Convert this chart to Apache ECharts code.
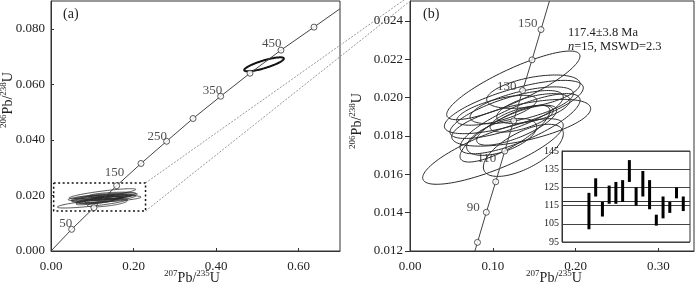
<!DOCTYPE html>
<html><head><meta charset="utf-8">
<script src="https://cdn.jsdelivr.net/npm/echarts@6/dist/echarts.min.js"></script>
<style>html,body{margin:0;padding:0;background:#fff}#c{width:700px;height:285px}</style>
</head><body><div id="c"></div>
<script>
// ---------- data ----------
// Concordia reference points, panel (a)
const concA_age = [50, 100, 150, 200, 250, 300, 350, 400, 450, 500];
const concA_x = [0.050, 0.104, 0.159, 0.218, 0.280, 0.344, 0.411, 0.482, 0.557, 0.637];
const concA_y = [0.0078, 0.0156, 0.0235, 0.0315, 0.0395, 0.0477, 0.0557, 0.0640, 0.0723, 0.0806];
const concA_lineX = [0, 0.050, 0.104, 0.159, 0.218, 0.280, 0.344, 0.411, 0.482, 0.557, 0.637, 0.700];
const concA_lineY = [0, 0.0078, 0.0156, 0.0235, 0.0315, 0.0395, 0.0477, 0.0557, 0.0640, 0.0723, 0.0806, 0.0872];
const concA_labels = [50, 150, 250, 350, 450];

// Concordia reference points, panel (b)
const concB_age = [80, 90, 100, 110, 120, 130, 140, 150];
const concB_x = [0.0815, 0.0922, 0.1035, 0.1144, 0.1252, 0.1360, 0.1474, 0.1582];
const concB_y = [0.01245, 0.01402, 0.01561, 0.01721, 0.01879, 0.02037, 0.02197, 0.02355];
const concB_lineX = [0.0784, 0.0815, 0.0922, 0.1035, 0.1144, 0.1252, 0.1360, 0.1474, 0.1582, 0.1684];
const concB_lineY = [0.0120, 0.01245, 0.01402, 0.01561, 0.01721, 0.01879, 0.02037, 0.02197, 0.02355, 0.02504];
const concB_labels = [90, 110, 130, 150];

// Analysis error ellipses: centre, half-widths and error correlation
const ellCx  = [0.1002, 0.1248, 0.1490, 0.1254, 0.1343, 0.1329, 0.1147, 0.1369, 0.1167, 0.1349, 0.1288, 0.1349, 0.1107, 0.1490, 0.1047];
const ellCy  = [0.01719, 0.02064, 0.02031, 0.01951, 0.01869, 0.01864, 0.01812, 0.01725, 0.01912, 0.01960, 0.01856, 0.01890, 0.01795, 0.01943, 0.01934];
const ellSx  = [0.0849, 0.0805, 0.0564, 0.0839, 0.0839, 0.0725, 0.0543, 0.0483, 0.0684, 0.0624, 0.0483, 0.0382, 0.0423, 0.0443, 0.0483];
const ellSy  = [0.00171, 0.00179, 0.00087, 0.00139, 0.00122, 0.00157, 0.00148, 0.00136, 0.00125, 0.00096, 0.00104, 0.00070, 0.00096, 0.00078, 0.00078];
const ellRho = [0.80, 0.85, 0.47, 0.72, 0.60, 0.78, 0.80, 0.64, 0.73, 0.64, 0.75, 0.62, 0.55, 0.55, 0.67];

// Inherited (old) grain ellipse, panel (a)
const oldCx = [0.516], oldCy = [0.0672], oldSx = [0.048], oldSy = [0.00252], oldRho = [0.82];

// Zoom box in panel (a): x1, x2 / y1, y2
const boxX = [0.0065, 0.229];
const boxY = [0.0144, 0.0245];

// Inset: 206Pb/238U ages with error bars
const spotNo  = [1, 2, 3, 4, 5, 6, 7, 8, 9, 10, 11, 12, 13, 14, 15];
const ageLow  = [102, 120, 109, 116, 116, 117, 128, 115, 120, 113, 104, 108, 111, 119, 112];
const ageHigh = [122, 130, 117, 126, 128, 129, 140, 125, 134, 129, 110, 120, 117, 125, 120];
const meanAge = 117.4;
const insetTicks = [95, 105, 115, 125, 135, 145];

// ---------- styling ----------
const SERIF = '"Liberation Serif","Times New Roman",serif';
const INK = '#222';

const labelOffA = {50: [4, -2.5], 150: [11, -9.5], 250: [4, -1], 350: [5, -2.5], 450: [4, -3]};
const labelOffB = {90: [-3, -1], 110: [-5, 11], 130: [-2.6, 0], 150: [0, -2.6]};

function ellRender(lw, color) {
  return function (params, api) {
    const cx = api.value(0), cy = api.value(1), sx = api.value(2), sy = api.value(3), r = api.value(4);
    const k = Math.sqrt(1 - r * r);
    const pts = [];
    for (let i = 0; i < 120; i++) {
      const t = i / 120 * Math.PI * 2;
      pts.push(api.coord([cx + sx * Math.cos(t), cy + sy * (r * Math.cos(t) + k * Math.sin(t))]));
    }
    return {type: 'polygon', shape: {points: pts}, style: {fill: 'none', stroke: color, lineWidth: lw}};
  };
}
const zip5 = (a, b, c, d, e) => a.map((v, i) => [v, b[i], c[i], d[i], e[i]]);
const ellData = zip5(ellCx, ellCy, ellSx, ellSy, ellRho);
const oldData = zip5(oldCx, oldCy, oldSx, oldSy, oldRho);

function markerData(ages, xs, ys, labs, offs) {
  return ages.map((a, i) => {
    const it = {value: [xs[i], ys[i]]};
    if (labs.indexOf(a) >= 0) {
      it.label = {show: true, formatter: String(a), position: offs[a], align: 'right', verticalAlign: 'middle'};
    }
    return it;
  });
}
const pairs = (xs, ys) => xs.map((v, i) => [v, ys[i]]);

function fmtFix(interval, digits) {
  return function (v) {
    const k = v / interval;
    if (Math.abs(k - Math.round(k)) > 1e-6) return '';
    return v.toFixed(digits);
  };
}

const axisLabelStyle = {color: INK, fontFamily: SERIF, fontSize: 13};

const option = {
  animation: false,
  backgroundColor: '#fff',
  grid: [
    {left: 51, top: 1, width: 289, height: 250, show: true, borderColor: '#333', borderWidth: 1, outerBoundsMode: 'none', containLabel: false},
    {left: 410, top: 1, width: 284, height: 250, show: true, borderColor: '#333', borderWidth: 1, outerBoundsMode: 'none', containLabel: false},
    {left: 562, top: 151, width: 128, height: 91, show: true, borderColor: '#333', borderWidth: 1, backgroundColor: '#fff', outerBoundsMode: 'none', containLabel: false}
  ],
  xAxis: [
    {gridIndex: 0, type: 'value', min: 0, max: 0.7, interval: 0.2,
     axisLine: {show: true, onZero: false, lineStyle: {color: '#333'}},
     axisTick: {show: true, inside: true, length: 3, lineStyle: {color: '#333'}},
     axisLabel: Object.assign({margin: 9, formatter: fmtFix(0.2, 2), showMaxLabel: false}, axisLabelStyle),
     splitLine: {show: false}},
    {gridIndex: 1, type: 'value', min: 0, max: 0.343, interval: 0.1,
     axisLine: {show: true, onZero: false, lineStyle: {color: '#333'}},
     axisTick: {show: true, inside: true, length: 3, lineStyle: {color: '#333'}},
     axisLabel: Object.assign({margin: 9, formatter: fmtFix(0.1, 2), showMaxLabel: false}, axisLabelStyle),
     splitLine: {show: false}},
    {gridIndex: 2, type: 'value', min: -3, max: 16, show: false}
  ],
  yAxis: [
    {gridIndex: 0, type: 'value', min: 0, max: 0.09, interval: 0.02,
     axisLine: {show: true, onZero: false, lineStyle: {color: '#333'}},
     axisTick: {show: true, inside: true, length: 3, lineStyle: {color: '#333'}},
     axisLabel: Object.assign({margin: 6, formatter: fmtFix(0.02, 3), showMaxLabel: false}, axisLabelStyle),
     splitLine: {show: false}},
    {gridIndex: 1, type: 'value', min: 0.012, max: 0.02504, interval: 0.002,
     axisLine: {show: true, onZero: false, lineStyle: {color: '#333'}},
     axisTick: {show: true, inside: false, length: 5, lineStyle: {color: '#333'}},
     axisLabel: Object.assign({margin: 7, formatter: fmtFix(0.002, 3), showMaxLabel: false}, axisLabelStyle),
     splitLine: {show: false}},
    {gridIndex: 2, type: 'value', min: insetTicks[0], max: insetTicks[insetTicks.length - 1], interval: 10,
     axisLine: {show: true, onZero: false, lineStyle: {color: '#333'}},
     axisTick: {show: false},
     axisLabel: {margin: 3, color: INK, fontFamily: SERIF, fontSize: 10},
     splitLine: {show: true, lineStyle: {color: '#444', width: 1}}}
  ],
  series: [
    // panel (a)
    {type: 'custom', xAxisIndex: 0, yAxisIndex: 0, clip: true, renderItem: ellRender(0.8, '#2a2a2a'), data: ellData, z: 2, silent: true},
    {type: 'custom', xAxisIndex: 0, yAxisIndex: 0, clip: true, renderItem: ellRender(2, '#111'), data: oldData, z: 2, silent: true},
    {type: 'line', xAxisIndex: 0, yAxisIndex: 0, data: pairs(concA_lineX, concA_lineY), symbol: 'none',
     lineStyle: {color: '#444', width: 1}, clip: true, z: 3, silent: true},
    {type: 'line', xAxisIndex: 0, yAxisIndex: 0,
     data: pairs([boxX[0], boxX[1], boxX[1], boxX[0], boxX[0]], [boxY[1], boxY[1], boxY[0], boxY[0], boxY[1]]),
     symbol: 'none', lineStyle: {color: '#111', width: 1.5, type: [2, 2.5]}, z: 4, silent: true},
    {type: 'scatter', xAxisIndex: 0, yAxisIndex: 0, data: markerData(concA_age, concA_x, concA_y, concA_labels, labelOffA),
     symbol: 'circle', symbolSize: 6, itemStyle: {color: '#fff', borderColor: '#333', borderWidth: 1}, z: 5, silent: true,
     label: {show: false, color: INK, fontFamily: SERIF, fontSize: 13}},
    // panel (b)
    {type: 'custom', xAxisIndex: 1, yAxisIndex: 1, clip: true, renderItem: ellRender(1, '#2a2a2a'), data: ellData, z: 2, silent: true},
    {type: 'line', xAxisIndex: 1, yAxisIndex: 1, data: pairs(concB_lineX, concB_lineY), symbol: 'none',
     lineStyle: {color: '#444', width: 1}, clip: true, z: 3, silent: true},
    {type: 'scatter', xAxisIndex: 1, yAxisIndex: 1, data: markerData(concB_age, concB_x, concB_y, concB_labels, labelOffB),
     symbol: 'circle', symbolSize: 6, itemStyle: {color: '#fff', borderColor: '#333', borderWidth: 1}, z: 5, silent: true,
     label: {show: false, color: INK, fontFamily: SERIF, fontSize: 13}},
    // inset
    {type: 'custom', xAxisIndex: 2, yAxisIndex: 2, clip: true, z: 6, silent: true,
     data: spotNo.map((n, i) => [n, ageLow[i], ageHigh[i]]),
     renderItem: function (params, api) {
       const p1 = api.coord([api.value(0), api.value(2)]);
       const p2 = api.coord([api.value(0), api.value(1)]);
       return {type: 'rect', shape: {x: p1[0] - 1.5, y: p1[1], width: 3, height: p2[1] - p1[1]}, style: {fill: '#000'}};
     },
     markLine: {silent: true, symbol: 'none', label: {show: false}, data: [{yAxis: meanAge}],
                lineStyle: {color: '#333', width: 1, type: 'solid'}}}
  ]
};

const supRich = {
  s: {fontFamily: SERIF, fontSize: 9, lineHeight: 9, verticalAlign: 'top', fill: INK},
  m: {fontFamily: SERIF, fontSize: 14, lineHeight: 17, fill: INK},
  i: {fontFamily: SERIF, fontSize: 12.5, lineHeight: 15, fontStyle: 'italic', fill: INK},
  t: {fontFamily: SERIF, fontSize: 12.5, lineHeight: 15, fill: INK}
};
function txt(id, x, y, text, rot, align) {
  return {type: 'text', id: id, x: x, y: y, rotation: rot || 0, z: 20, silent: true,
          style: {text: text, rich: supRich, align: align || 'center', verticalAlign: 'middle', fill: INK,
                  fontFamily: SERIF, fontSize: 14}};
}
const texts = [
  txt('xa', 192, 278, '{s|207}{m|Pb/}{s|235}{m|U}'),
  txt('xb', 554, 278, '{s|207}{m|Pb/}{s|235}{m|U}'),
  txt('ya', 8, 100, '{s|206}{m|Pb/}{s|238}{m|U}', Math.PI / 2),
  txt('yb', 357, 121, '{s|206}{m|Pb/}{s|238}{m|U}', Math.PI / 2),
  txt('pa', 63, 14, '{m|(a)}', 0, 'left'),
  txt('pb', 423, 14, '{m|(b)}', 0, 'left'),
  txt('an1', 568, 33, '{t|117.4±3.8 Ma}', 0, 'left'),
  txt('an2', 568, 47, '{i|n}{t|=15, MSWD=2.3}', 0, 'left')
];
option.graphic = {elements: texts};

const chart = echarts.init(document.getElementById('c'), null, {renderer: 'canvas'});
chart.setOption(option);

// connector lines from the zoom box to panel (b)
const cTop = chart.convertToPixel({gridIndex: 0}, [boxX[1], boxY[1]]);
const cBot = chart.convertToPixel({gridIndex: 0}, [boxX[1], boxY[0]]);
const bCorner = chart.convertToPixel({gridIndex: 1}, [0, 0.02504]);
const conn = [
  {type: 'line', id: 'c1', z: 1, silent: true,
   shape: {x1: cTop[0], y1: cTop[1], x2: bCorner[0] - 6, y2: bCorner[1] - 1},
   style: {stroke: '#999', lineWidth: 1, lineDash: [2, 1.5]}},
  {type: 'line', id: 'c2', z: 1, silent: true,
   shape: {x1: cBot[0], y1: cBot[1], x2: bCorner[0] - 1, y2: bCorner[1] + 1},
   style: {stroke: '#999', lineWidth: 1, lineDash: [2, 1.5]}}
];
chart.setOption({graphic: {elements: texts.concat(conn)}});
</script>
</body></html>
